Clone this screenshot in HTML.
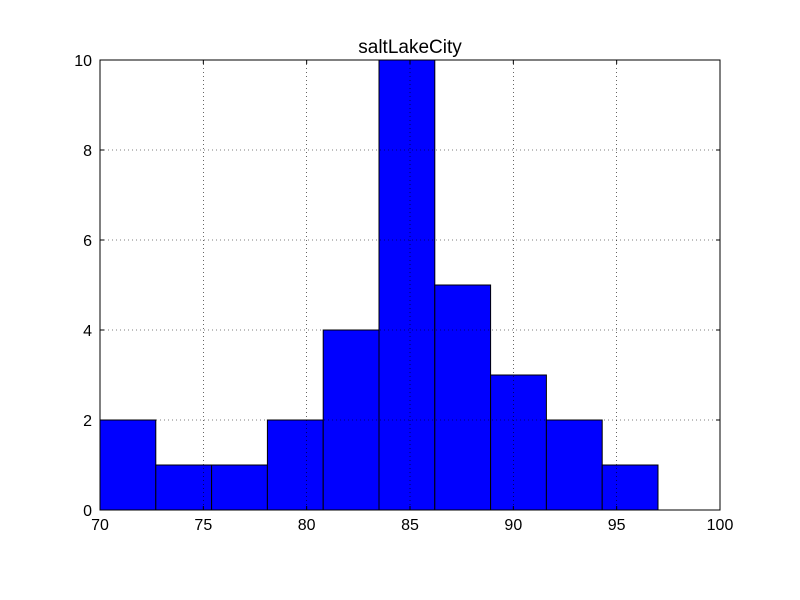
<!DOCTYPE html>
<html><head><meta charset="utf-8"><style>
html,body{margin:0;padding:0;background:#fff;width:800px;height:600px;overflow:hidden}
text{font-family:"Liberation Sans","DejaVu Sans",sans-serif}
</style></head><body>
<svg id="chart" width="800" height="600" xmlns="http://www.w3.org/2000/svg"></svg>
<script>
const binStart = 70;
const binWidth = 2.7;
const counts = [2,1,1,2,4,10,5,3,2,1];
const xTicks = [70,75,80,85,90,95,100];
const yTicks = [0,2,4,6,8,10];
const title = "saltLakeCity";

const L=100,R=720,T=60,B=510;
const xs=v=>L+(v-70)/30*(R-L);
const ys=v=>B-(v/10)*(B-T);
const svg=document.getElementById('chart');
const NS="http://www.w3.org/2000/svg";
function mk(tag,attrs,parent){const e=document.createElementNS(NS,tag);for(const k in attrs)e.setAttribute(k,attrs[k]);(parent||svg).appendChild(e);return e;}

const bars=mk('g',{});


counts.forEach((c,i)=>{
  const x0=xs(binStart+i*binWidth),x1=xs(binStart+(i+1)*binWidth);
  const r=mk('rect',{x:x0,y:ys(c),width:x1-x0,height:ys(0)-ys(c),fill:'#0000ff',stroke:'#000','stroke-width':1},bars);
  
  
});

const grid=mk('g',{});


xTicks.forEach(t=>{mk('line',{x1:xs(t),x2:xs(t),y1:T,y2:B,stroke:'#000','stroke-width':0.6,'stroke-dasharray':'1,3'},grid);});
yTicks.forEach(t=>{mk('line',{x1:L,x2:R,y1:ys(t),y2:ys(t),stroke:'#000','stroke-width':0.6,'stroke-dasharray':'1,3'},grid);});

const frame=mk('rect',{x:L,y:T,width:R-L,height:B-T,fill:'none',stroke:'#000','stroke-width':1});



const xa=mk('g',{});


xTicks.forEach(t=>{
  mk('line',{x1:xs(t),x2:xs(t),y1:B,y2:B-4,stroke:'#000'},xa);
  mk('line',{x1:xs(t),x2:xs(t),y1:T,y2:T+4,stroke:'#000'},xa);
  const tx=mk('text',{x:xs(t),y:B+20,'text-anchor':'middle','font-size':16},xa);tx.textContent=t;
  
  
});
const ya=mk('g',{});


yTicks.forEach(t=>{
  mk('line',{x1:L,x2:L+4,y1:ys(t),y2:ys(t),stroke:'#000'},ya);
  mk('line',{x1:R,x2:R-4,y1:ys(t),y2:ys(t),stroke:'#000'},ya);
  const tx=mk('text',{x:L-8,y:ys(t)+6,'text-anchor':'end','font-size':16},ya);tx.textContent=t;
  
  
});
const tt=mk('text',{x:(L+R)/2,y:T-7,'text-anchor':'middle','font-size':19});
tt.textContent=title;


</script>
</body></html>
